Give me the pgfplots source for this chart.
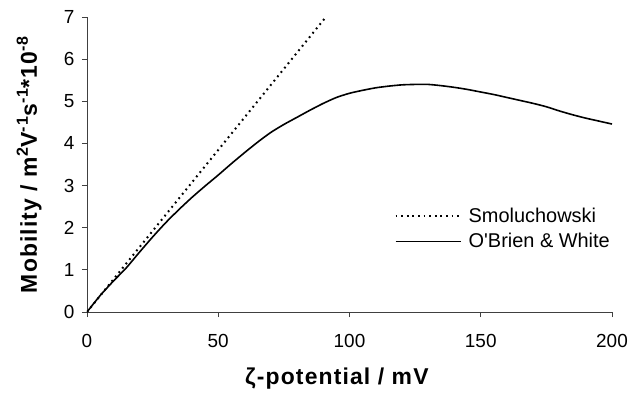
\documentclass[border=0pt]{standalone}
\usepackage{fontspec}
\setmainfont{Liberation Sans}
\usepackage{pgfplots}
\pgfplotsset{compat=1.18}

\begin{document}
\begin{tikzpicture}[x=1bp,y=1bp]
\begin{axis}[
  at={(0,0)}, anchor=south west,
  scale only axis,
  width=525bp, height=295bp,
  xmin=0, xmax=200, ymin=0, ymax=7,
  xtick={0,50,...,200}, ytick={0,1,...,7},
  axis x line*=bottom, axis y line*=left,
  axis line style={black!75, line width=0.8bp},
  tick style={black!75, line width=0.8bp},
  tick align=outside,
  major tick length=5bp,
  /pgf/number format/assume math mode=true,
  ticklabel style={font=\fontsize{19}{22}\selectfont},
  xticklabel style={yshift=-14bp},
  yticklabel style={xshift=-4bp},
  xlabel={\bfseries\addfontfeatures{LetterSpace=5}ζ-potential / mV},
  xlabel style={font=\fontsize{23}{26}\selectfont, at={(axis description cs:0.476,-0.225)}, anchor=center},
  ylabel={\bfseries\addfontfeatures{LetterSpace=5}Mobility / m\textsuperscript{2}V\textsuperscript{-1}s\textsuperscript{-1}*10\textsuperscript{-8}},
  ylabel style={font=\fontsize{23}{26}\selectfont, at={(axis description cs:-0.11,0.5)}, anchor=center},
  legend style={draw=none, fill=none, font=\fontsize{20}{23}\selectfont,
    at={(axis description cs:0.58,0.365)}, anchor=north west,
    row sep=5bp, cells={anchor=west}},
  legend image code/.code={\draw[#1] (0bp,0bp) -- (65bp,0bp); \path (70bp,0bp);},
]
% Smoluchowski: linear in zeta
\addplot[black, line width=2bp, dash pattern=on 1.8bp off 3.8bp] coordinates {
  (0,0) (91,7)
};
\addlegendentry{Smoluchowski}
% O'Brien & White numerical solution
\addplot[black, line width=1.6bp, smooth, tension=0.4] coordinates {
  (0,0) (5,0.39) (10,0.73) (15,1.05) (20,1.42) (25,1.78) (30,2.12)
  (35,2.43) (40,2.72) (45,2.99) (50,3.25) (55,3.52) (60,3.78)
  (65,4.03) (70,4.26) (75,4.45) (80,4.62) (85,4.79) (90,4.95)
  (95,5.09) (100,5.19) (105,5.26) (110,5.32) (115,5.36) (120,5.39)
  (125,5.40) (130,5.40) (135,5.37) (140,5.33) (145,5.28) (150,5.22)
  (155,5.16) (160,5.09) (165,5.02) (170,4.95) (175,4.87) (180,4.77)
  (185,4.68) (190,4.60) (195,4.53) (200,4.46)
};
\addlegendentry{O\textquotesingle Brien \& White}
\end{axis}
\pgfresetboundingbox
\path (-87bp,-84bp) rectangle (544bp,312bp);
\end{tikzpicture}
\end{document}
